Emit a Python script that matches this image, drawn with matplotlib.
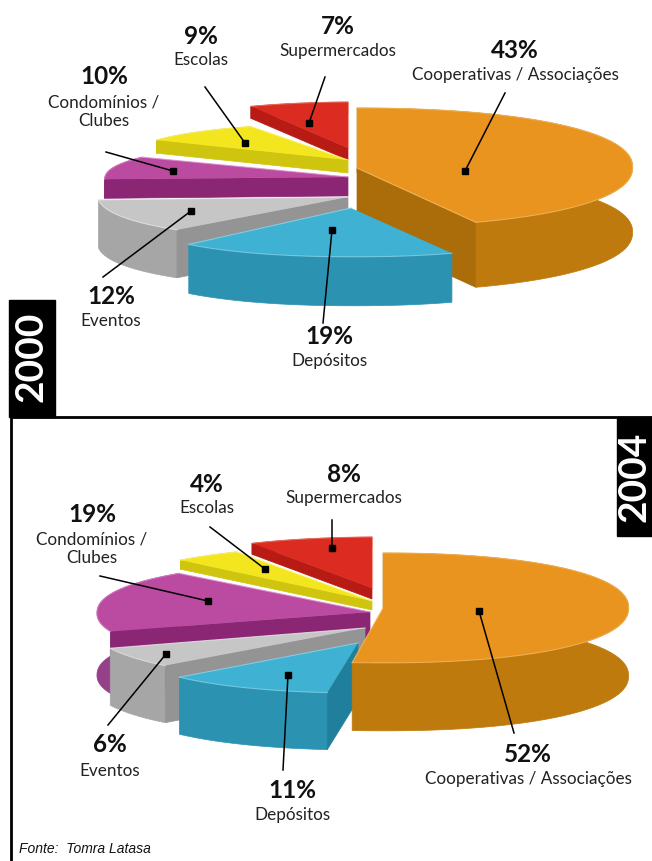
import numpy as np
import matplotlib
matplotlib.use('Agg')
import matplotlib.pyplot as plt

plt.rcParams['font.family'] = ['Lato', 'DejaVu Sans']

# values, clockwise from the top
names = ['Cooperativas / Associações', 'Depósitos', 'Eventos',
         'Condomínios /\nClubes', 'Escolas', 'Supermercados']
values_2000 = [43, 19, 12, 10, 9, 7]
values_2004 = [52, 11, 6, 19, 4, 8]

top_colors = ['#e8941f', '#3fb1d2', '#c6c6c6', '#bb4ba0', '#f4e61e', '#dc2b20']
side_colors = ['#bf7a0e', '#2b92b2', '#a6a6a6', '#96408a', '#cfc40e', '#b81a14']
cut_colors = ['#ab6c0a', '#1f7f9c', '#949494', '#8a2674', '#cfc40e', '#b81a14']
rim_colors = ['#f6bb62', '#8ad6ea', '#e8e8e8', '#dc8ccb', '#fbf480', '#f0836f']

# slice placement in pixels: apex x, apex y, a, b, depth
geom_2000 = [(357, 168, 279, 60, 65), (351, 208, 237, 50, 49), (348, 197, 250, 45, 48),
             (348, 177, 244, 37, 19), (348, 160, 227, 37, 13), (348, 148, 228, 46, 12)]
geom_2004 = [(383, 608, 246, 55, 68), (358, 643, 245, 50, 57), (365, 628, 274, 55, 57),
             (370, 612, 279, 53, 62), (372, 601, 280, 56, 9), (372, 588, 249, 51, 11)]

order_2000 = [5, 4, 3, 2, 0, 1]
order_2004 = [5, 4, 3, 2, 1, 0]

# label x, y of the percentage, name y, then leader line x0, y0, x1, y1
labels_2000 = [(515, 51, 75, 505, 93, 465, 171), (329, 336, 361, 323, 323, 332, 230),
               (111, 296, 321, 103, 277, 191, 211), (104, 76, 112, 106, 152, 173, 171),
               (201, 36, 60, 205, 87, 245, 143), (338, 27, 51, 325, 77, 309, 123)]
labels_2004 = [(528, 755, 779, 514, 733, 479, 611), (292, 790, 815, 283, 770, 288, 675),
               (110, 745, 771, 108, 725, 166, 654), (92, 514, 549, 100, 576, 208, 601),
               (207, 484, 508, 210, 527, 265, 569), (344, 474, 498, 332, 520, 332, 548)]


def blunt(t, n=2.2):
    return (np.abs(np.cos(t)) ** n + np.abs(np.sin(t)) ** n) ** (-1 / n)


def draw_pie(ax, values, geom, order):
    starts = 90 - 3.6 * np.concatenate([[0], np.cumsum(values)[:-1]])
    for i in order:
        cx, cy, a, b, depth = geom[i]
        t = np.radians(np.linspace(starts[i], starts[i] - 3.6 * values[i], 80))
        # a bit rounder than an ellipse, but the corners stay on it
        r = blunt(t) / np.linspace(blunt(t[0]), blunt(t[-1]), 80)
        x = cx + a * r * np.cos(t)
        y = cy - b * r * np.sin(t)
        # outer wall, then the cut faces that look at us, then the top
        ax.fill(np.r_[x, x[::-1]], np.r_[y, y[::-1] + depth],
                color=side_colors[i], lw=0.5, zorder=1)
        if np.cos(t[0]) < -1e-6:
            ax.fill([cx, x[0], x[0], cx], [cy, y[0], y[0] + depth, cy + depth],
                    color=cut_colors[i], lw=0.5, zorder=1)
        if np.cos(t[-1]) > 1e-6:
            ax.fill([cx, x[-1], x[-1], cx], [cy, y[-1], y[-1] + depth, cy + depth],
                    color=cut_colors[i], lw=0.5, zorder=1)
        ax.fill(np.r_[cx, x], np.r_[cy, y], color=top_colors[i], lw=0, zorder=1)
        ax.plot(np.r_[cx, x[-1]], np.r_[cy, y[-1]], color=rim_colors[i], lw=0.8,
                zorder=1, alpha=0.8)
        ax.plot(x, y, color=rim_colors[i], lw=0.8, zorder=1, alpha=0.7)


def draw_labels(ax, values, labels):
    for name, val, lab in zip(names, values, labels):
        tx, py, ny, x0, y0, x1, y1 = lab
        ax.text(tx, py, str(val) + '%', ha='center', va='center', fontsize=17.5,
                fontweight='bold', color='#111111', zorder=3)
        ax.text(tx, ny, name, ha='center', va='center', fontsize=12.3,
                color='#222222', linespacing=1.2, zorder=3)
        ax.plot([x0, x1], [y0, y1], color='black', lw=1.1, zorder=2)
        ax.plot([x1], [y1], 's', color='black', ms=4.5, zorder=2)


fig = plt.figure(figsize=(6.52, 8.61), dpi=100)
ax = fig.add_axes([0, 0, 1, 1])
ax.set_xlim(0, 652)
ax.set_ylim(861, 0)
ax.axis('off')

draw_pie(ax, values_2000, geom_2000, order_2000)
draw_pie(ax, values_2004, geom_2004, order_2004)
draw_labels(ax, values_2000, labels_2000)
draw_labels(ax, values_2004, labels_2004)

# frame and year tabs
ax.plot([11, 11, 652], [861, 417, 417], color='black', lw=2, zorder=4)
ax.fill([9, 55, 55, 9], [300, 300, 417, 417], color='black', zorder=4)
ax.fill([617, 652, 652, 617], [417, 417, 536, 536], color='black', zorder=4)
ax.text(31, 357, '2000', color='white', rotation=90, ha='center', va='center',
        fontsize=28, fontweight='bold', zorder=5)
ax.text(634, 477, '2004', color='white', rotation=90, ha='center', va='center',
        fontsize=28, fontweight='bold', zorder=5)
ax.text(19, 849, 'Fonte:  Tomra Latasa', ha='left', va='center', fontsize=10,
        family='Liberation Sans', style='italic', color='#111111', zorder=5)

fig.savefig('out.png', dpi=100)
